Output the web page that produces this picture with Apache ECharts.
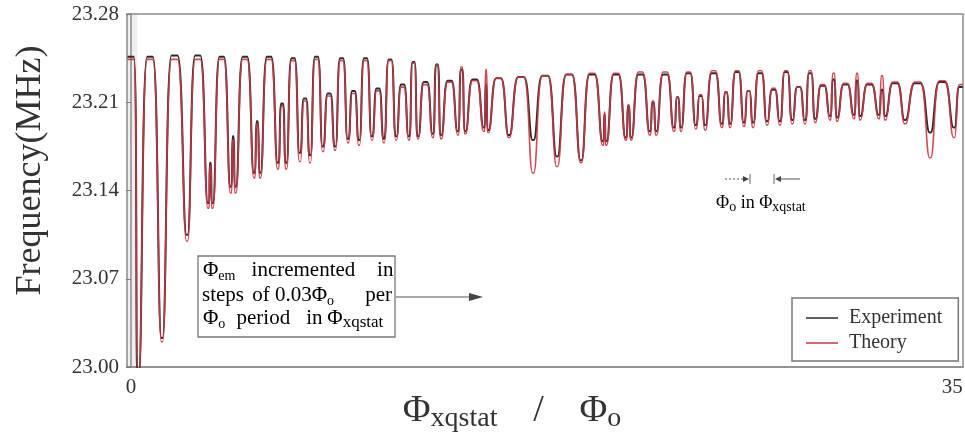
<!DOCTYPE html>
<html>
<head>
<meta charset="utf-8">
<title>Frequency vs flux</title>
<script src="https://cdn.jsdelivr.net/npm/echarts@6.0.0/dist/echarts.min.js"></script>
<style>
  html, body { margin: 0; padding: 0; background: #fff; }
  #main { width: 965px; height: 438px; }
</style>
</head>
<body>
<div id="main"></div>
<script>
// dip positions in Φxqstat/Φo, a split dip is listed as its two prongs
var dipX = [0.30, 1.32, 2.39, 3.30, 3.47, 4.26, 4.45, 5.26, 5.50, 6.27, 6.61, 7.20, 7.63, 8.18, 8.70,
  9.25, 9.72, 10.27, 10.78, 11.30, 11.85, 12.23, 12.87, 13.21, 13.94, 14.24, 15.05, 15.22, 16.11, 17.14,
  18.16, 19.18, 20.12, 20.25, 21.10, 21.31, 22.12, 22.38, 23.15, 23.44, 24.08, 24.47, 25.19, 25.53, 26.13,
  26.51, 27.11, 27.66, 28.18, 28.73, 29.16, 29.80, 30.09, 30.82, 31.07, 31.88, 32.14, 32.99, 34.06, 35.08];

// bottom of each dip (MHz)
var expDip = [22.99, 23.023, 23.105, 23.130, 23.130, 23.143, 23.143, 23.154, 23.154, 23.162, 23.162, 23.170,
  23.168, 23.175, 23.175, 23.181, 23.180, 23.183, 23.181, 23.183, 23.183, 23.183, 23.185, 23.184, 23.187,
  23.187, 23.190, 23.188, 23.184, 23.180, 23.167, 23.164, 23.179, 23.179, 23.182, 23.182, 23.187, 23.187,
  23.190, 23.190, 23.192, 23.192, 23.193, 23.193, 23.194, 23.194, 23.195, 23.195, 23.196, 23.196, 23.197,
  23.199, 23.198, 23.200, 23.199, 23.200, 23.199, 23.196, 23.186, 23.190];
var theoryDip = [22.99, 23.020, 23.100, 23.126, 23.126, 23.138, 23.138, 23.150, 23.150, 23.157, 23.157, 23.163,
  23.162, 23.171, 23.172, 23.178, 23.176, 23.180, 23.178, 23.180, 23.180, 23.181, 23.182, 23.181, 23.184,
  23.185, 23.187, 23.186, 23.182, 23.154, 23.159, 23.162, 23.176, 23.176, 23.180, 23.180, 23.184, 23.184,
  23.187, 23.187, 23.189, 23.188, 23.190, 23.190, 23.191, 23.190, 23.192, 23.192, 23.193, 23.193, 23.194,
  23.196, 23.195, 23.197, 23.196, 23.197, 23.196, 23.193, 23.166, 23.182];

// top of each arc: before the first dip, between dips, after the last dip
var expArc = [23.246, 23.246, 23.247, 23.247, 23.162, 23.246, 23.183, 23.246, 23.195, 23.246, 23.209, 23.245,
  23.213, 23.246, 23.217, 23.245, 23.219, 23.245, 23.221, 23.244, 23.224, 23.242, 23.226, 23.240, 23.227,
  23.236, 23.228, 23.224, 23.229, 23.230, 23.231, 23.232, 23.232, 23.200, 23.232, 23.207, 23.232, 23.210,
  23.232, 23.214, 23.233, 23.215, 23.233, 23.218, 23.234, 23.219, 23.233, 23.220, 23.234, 23.222, 23.233,
  23.223, 23.228, 23.224, 23.227, 23.224, 23.220, 23.225, 23.225, 23.226, 23.222];
var theoryArc = [23.244, 23.244, 23.244, 23.244, 23.160, 23.244, 23.180, 23.244, 23.193, 23.244, 23.207, 23.243,
  23.211, 23.244, 23.215, 23.243, 23.217, 23.243, 23.219, 23.243, 23.222, 23.241, 23.224, 23.240, 23.226,
  23.238, 23.227, 23.236, 23.229, 23.230, 23.231, 23.232, 23.233, 23.202, 23.233, 23.208, 23.234, 23.211,
  23.234, 23.214, 23.234, 23.216, 23.235, 23.218, 23.235, 23.219, 23.235, 23.221, 23.235, 23.222, 23.235,
  23.224, 23.233, 23.225, 23.233, 23.225, 23.231, 23.226, 23.226, 23.227, 23.224];

var traceStart = -0.15;
var traceEnd = 35.45;
var xTicks = [0, 35];
var yTicks = [23.00, 23.07, 23.14, 23.21, 23.28];

function buildTrace(dips, arcs) {
  var pts = [[traceStart, arcs[0]], [traceStart + 0.6 * (dipX[0] - traceStart), arcs[0]]];
  for (var i = 0; i < dipX.length; i++) {
    var x0 = dipX[i];
    // two close points keep the dip bottom sharp in the smoothed line
    pts.push([x0 - 0.025, dips[i]], [x0 + 0.025, dips[i]]);
    if (i + 1 < dipX.length) {
      // the arc top sits over the middle of the span between two dips
      var w = dipX[i + 1] - x0;
      pts.push([x0 + 0.38 * w, arcs[i + 1]], [x0 + 0.62 * w, arcs[i + 1]]);
    } else {
      pts.push([x0 + 0.6 * (traceEnd - x0), arcs[i + 1]], [traceEnd, arcs[i + 1]]);
    }
  }
  return pts;
}

var serif = '"Liberation Serif", "Times New Roman", serif';
var ink = '#333';

var boxRich = {
  p: { fontFamily: serif, fontSize: 21, color: ink, lineHeight: 26 },
  s: { fontFamily: serif, fontSize: 14, color: ink, lineHeight: 16, verticalAlign: 'bottom' },
  s2: { fontFamily: serif, fontSize: 17, color: ink, lineHeight: 18, verticalAlign: 'bottom' },
  w1: { fontFamily: serif, fontSize: 21, color: ink, lineHeight: 26, width: 136, align: 'center' },
  w2: { fontFamily: serif, fontSize: 21, color: ink, lineHeight: 26, width: 22, align: 'right' },
  a: { fontFamily: serif, fontSize: 21, color: ink, lineHeight: 26, width: 45, align: 'left' },
  b: { fontFamily: serif, fontSize: 21, color: ink, lineHeight: 26, width: 28, align: 'center' },
  c: { fontFamily: serif, fontSize: 21, color: ink, lineHeight: 26, width: 58, align: 'right' },
  m: { fontFamily: serif, fontSize: 21, color: ink, lineHeight: 26, width: 76, align: 'center' },
  n: { fontFamily: serif, fontSize: 21, color: ink, lineHeight: 26, width: 26, align: 'center' }
};

var smallRich = {
  p: { fontFamily: serif, fontSize: 18, color: ink, lineHeight: 22 },
  s: { fontFamily: serif, fontSize: 14, color: ink, lineHeight: 15, verticalAlign: 'bottom' }
};

var myChart = echarts.init(document.getElementById('main'));

var option = {
  animation: false,
  backgroundColor: '#fff',
  grid: {
    left: 127,
    right: 2,
    top: 14,
    bottom: 71,
    outerBoundsMode: 'none',
    show: true,
    borderColor: '#8c8c8c',
    borderWidth: 1.5
  },
  legend: {
    data: ['Experiment', 'Theory'],
    orient: 'vertical',
    left: 792,
    top: 298,
    icon: 'rect',
    itemWidth: 32,
    itemHeight: 1.5,
    itemGap: 5,
    padding: [10, 16, 8, 14],
    borderColor: '#777',
    borderWidth: 1.5,
    textStyle: { fontFamily: serif, fontSize: 20, color: ink, padding: [0, 0, 0, 6] }
  },
  xAxis: {
    type: 'value',
    min: -0.17,
    max: 35.46,
    axisLine: { show: true, lineStyle: { color: '#8c8c8c', width: 1.5 } },
    axisTick: { show: false },
    splitLine: { show: false },
    axisLabel: { customValues: xTicks, margin: 10, fontFamily: serif, fontSize: 21, color: ink },
    name: '{p|Φ}{s|xqstat}{g|/}{p|Φ}{s|o}',
    nameLocation: 'middle',
    nameGap: 22,
    nameMoveOverlap: false,
    nameTextStyle: {
      padding: [0, 66, 0, 0],
      rich: {
        p: { fontFamily: serif, fontSize: 38, color: ink, lineHeight: 44 },
        g: { fontFamily: serif, fontSize: 38, color: ink, lineHeight: 44, width: 82, align: 'center' },
        s: { fontFamily: serif, fontSize: 28, color: ink, lineHeight: 28, verticalAlign: 'bottom' }
      }
    }
  },
  yAxis: {
    type: 'value',
    min: 23.00,
    max: 23.28,
    axisLine: { show: true, lineStyle: { color: '#8c8c8c', width: 1.5 } },
    axisTick: { show: true, customValues: yTicks, length: 5, lineStyle: { color: '#777' } },
    splitLine: { show: false },
    axisLabel: {
      customValues: yTicks,
      margin: 8,
      fontFamily: serif,
      fontSize: 21,
      color: ink,
      formatter: function (v) { return v.toFixed(2); }
    },
    name: 'Frequency(MHz)',
    nameLocation: 'middle',
    nameGap: 78,
    nameMoveOverlap: false,
    nameTextStyle: { fontFamily: serif, fontSize: 36, color: ink, padding: [0, 0, 0, 40] }
  },
  series: [
    {
      name: 'Experiment',
      type: 'line',
      data: buildTrace(expDip, expArc),
      showSymbol: false,
      smooth: 0.4,
      color: '#2b2b2b',
      lineStyle: { color: '#2b2b2b', width: 2 },
      markArea: {
        silent: true,
        itemStyle: { color: 'rgba(140,140,140,0.14)' },
        data: [[{ xAxis: -0.17 }, { xAxis: 0.26 }]]
      }
    },
    {
      name: 'Theory',
      type: 'line',
      data: buildTrace(theoryDip, theoryArc),
      showSymbol: false,
      smooth: 0.4,
      color: '#cc3644',
      lineStyle: { color: '#cc3644', width: 1.6, opacity: 0.9 }
    }
  ],
  graphic: [
    // boxed note with arrow
    { type: 'rect', shape: { x: 198, y: 256, width: 197, height: 81 }, style: { fill: 'none', stroke: '#777', lineWidth: 1.3 } },
    { type: 'text', x: 203, y: 270, style: { text: '{p|Φ}{s|em}{w1|incremented}{w2|in}', rich: boxRich, verticalAlign: 'middle' } },
    { type: 'text', x: 202, y: 295, style: { text: '{a|steps}{b|of}{p|0.03Φ}{s|o}{c|per}', rich: boxRich, verticalAlign: 'middle' } },
    { type: 'text', x: 203, y: 318, style: { text: '{p|Φ}{s|o}{m|period}{n|in}{p|Φ}{s2|xqstat}', rich: boxRich, verticalAlign: 'middle' } },
    { type: 'line', shape: { x1: 396, y1: 297, x2: 472, y2: 297 }, style: { stroke: '#555', lineWidth: 1.2 } },
    { type: 'polygon', shape: { points: [[469, 293], [483, 297], [469, 301]] }, style: { fill: '#444' } },
    // period marker
    { type: 'text', x: 716, y: 203, style: { text: '{p|Φ}{s|o}{p| in Φ}{s|xqstat}', rich: smallRich, verticalAlign: 'middle' } },
    { type: 'line', shape: { x1: 725, y1: 179, x2: 745, y2: 179 }, style: { stroke: '#555', lineWidth: 1, lineDash: [2, 2] } },
    { type: 'polygon', shape: { points: [[743, 176], [749, 179], [743, 182]] }, style: { fill: '#444' } },
    { type: 'line', shape: { x1: 750, y1: 174, x2: 750, y2: 184 }, style: { stroke: '#666', lineWidth: 1 } },
    { type: 'line', shape: { x1: 774, y1: 174, x2: 774, y2: 184 }, style: { stroke: '#666', lineWidth: 1 } },
    { type: 'polygon', shape: { points: [[781, 176], [775, 179], [781, 182]] }, style: { fill: '#444' } },
    { type: 'line', shape: { x1: 780, y1: 179, x2: 800, y2: 179 }, style: { stroke: '#555', lineWidth: 1 } }
  ]
};

option && myChart.setOption(option);
</script>
</body>
</html>
